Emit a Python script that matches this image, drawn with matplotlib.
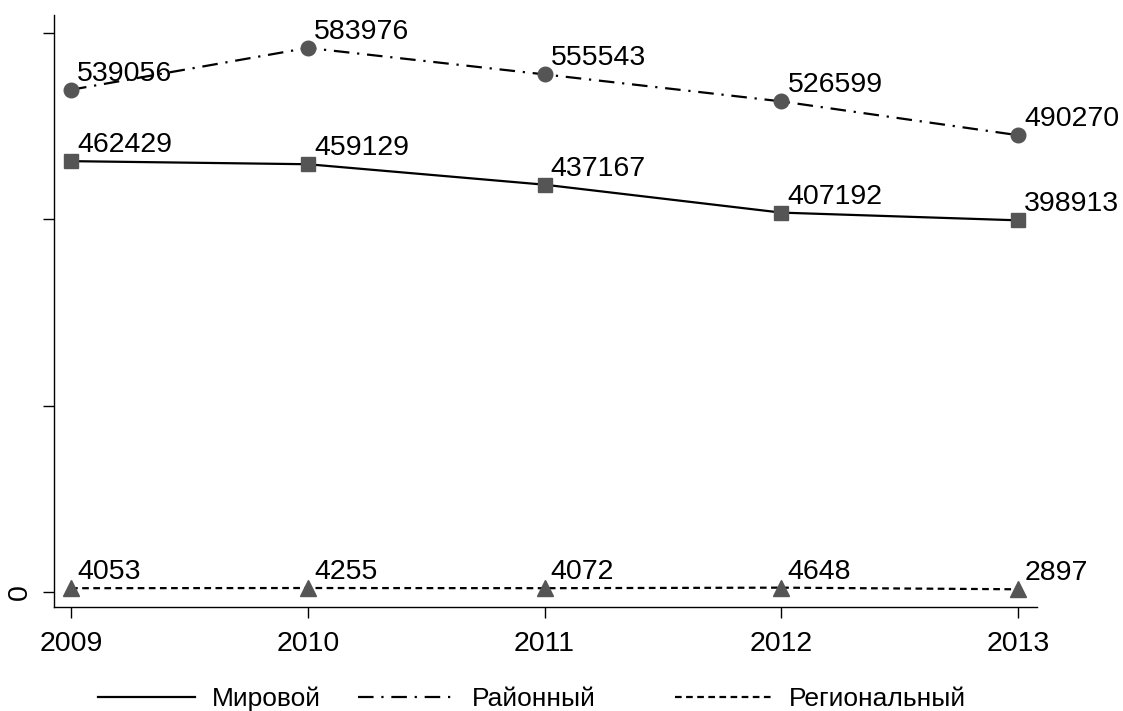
import matplotlib
matplotlib.use("Agg")
import matplotlib.pyplot as plt
from matplotlib.lines import Line2D

plt.rcParams['font.family'] = ['Liberation Sans', 'DejaVu Sans']

years = [2009, 2010, 2011, 2012, 2013]
world = [462429, 459129, 437167, 407192, 398913]
district = [539056, 583976, 555543, 526599, 490270]
regional = [4053, 4255, 4072, 4648, 2897]
labels = ["Мировой", "Районный", "Региональный"]

fig = plt.figure(figsize=(11.23, 7.11), dpi=100)
ax = fig.add_axes([0.0481, 0.1463, 0.9234 - 0.0481, 0.9789 - 0.1463])

mcol = '#555555'
dashdot = (0, (7, 3.5, 1, 3.5))
dashed = (0, (3, 2))
styles = ['-', dashdot, dashed]
ax.plot(years, world, color='black', lw=1.6, ls=styles[0], marker='s', ms=10.5,
        mfc=mcol, mec=mcol, zorder=3)
ax.plot(years, district, color='black', lw=1.6, ls=styles[1], marker='o', ms=10.5,
        mfc=mcol, mec=mcol, zorder=3)
ax.plot(years, regional, color='black', lw=1.6, ls=styles[2], marker='^', ms=11.5,
        mfc=mcol, mec=mcol, zorder=3)

for series in (world, district, regional):
    for x, y in zip(years, series):
        ax.annotate(str(y), (x, y), xytext=(4.5, 6.5), textcoords='offset points',
                    ha='left', va='baseline', fontsize=20.5)

ax.set_xlim(2008.928, 2013.08)
ax.set_ylim(-16100, 619300)
ax.set_xticks(years)
ax.set_xticklabels([str(y) for y in years], fontsize=20.5)
ax.set_yticks([0, 200000, 400000, 600000])
ax.set_yticklabels(['0', '', '', ''], fontsize=20.5, rotation=90, va='center')
ax.tick_params(axis='both', length=8, width=1, direction='out', color='black')
ax.tick_params(axis='x', pad=9)
ax.tick_params(axis='y', pad=7)
for s in ('top', 'right'):
    ax.spines[s].set_visible(False)
ax.spines['left'].set_linewidth(1)
ax.spines['bottom'].set_linewidth(1)

# legend entries placed like the reference (unequal column widths)
x_starts = [98 / 1123, 358 / 1123, 675 / 1123]
for ls, lab, x0 in zip(styles, labels, x_starts):
    h = Line2D([], [], color='black', lw=1.6, ls=ls)
    fig.legend([h], [lab], loc='center left', bbox_to_anchor=(x0, 0.017),
               frameon=False, fontsize=19, handlelength=3.67,
               handletextpad=0.64, borderpad=0, borderaxespad=0)

fig.savefig('out.png', dpi=100, facecolor='white')
